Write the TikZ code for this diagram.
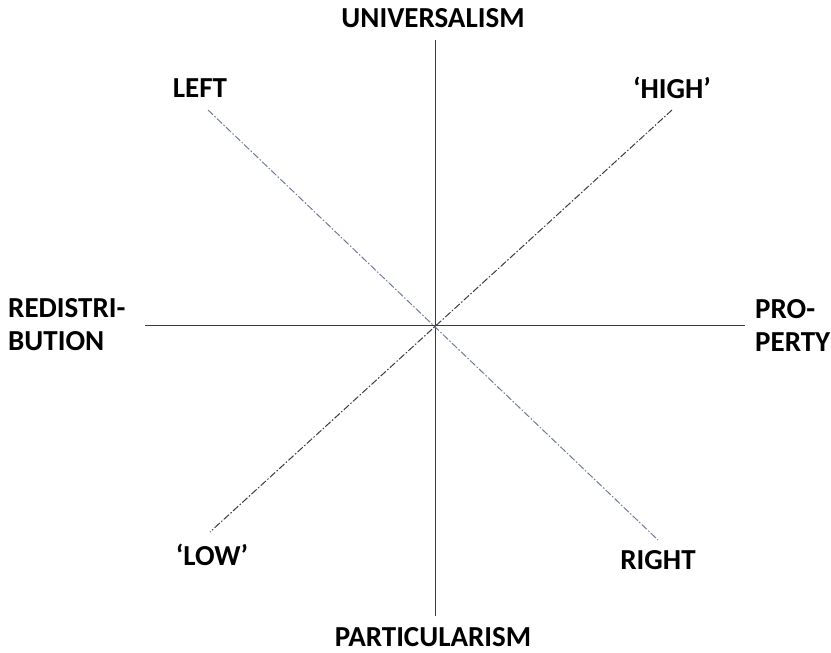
\documentclass[tikz,border=0pt]{standalone}
\usepackage{fontspec}
\setmainfont{Carlito}
\usetikzlibrary{positioning}

\definecolor{slate}{RGB}{110,125,150}
\definecolor{axisgray}{RGB}{60,60,60}

\begin{document}
\begin{tikzpicture}[
  x=1pt,
  y=-1pt,
  pole/.style={font=\fontsize{29}{33}\selectfont\bfseries, inner sep=0pt},
  twoline/.style={pole, align=left, anchor=west},
  axis/.style={draw=axisgray, line width=1pt},
  diag/.style={line width=1pt, dash pattern=on 7pt off 2pt on 1.5pt off 2pt}
]
\useasboundingbox (0,0) rectangle (831,653);

% end points of the four axes
\coordinate (top) at (435,40);
\coordinate (bot) at (435,616);
\coordinate (lft) at (145,325);
\coordinate (rgt) at (745,325);
\coordinate (nw) at (208,110);
\coordinate (se) at (658,540);
\coordinate (ne) at (672,110);
\coordinate (sw) at (210,532);

\node[pole] (univ) at (433,18) {UNIVERSALISM};
\node[pole] (part) at (433,637) {PARTICULARISM};
\node[pole] (left) at (200,88) {LEFT};
\node[pole] (right) at (658,560) {RIGHT};
\node[pole] (high) at (672,88) {‘HIGH’};
\node[pole] (low) at (212,555) {‘LOW’};
\node[twoline] (redis) at (8,325) {REDISTRI-\\BUTION};
\node[twoline] (prop) at (755,325) {PRO-\\PERTY};

\draw[axis] (top) -- (bot);
\draw[axis] (lft) -- (rgt);
\draw[diag, draw=slate] (nw) -- (se);
\draw[diag, draw=axisgray] (ne) -- (sw);
\end{tikzpicture}
\end{document}
